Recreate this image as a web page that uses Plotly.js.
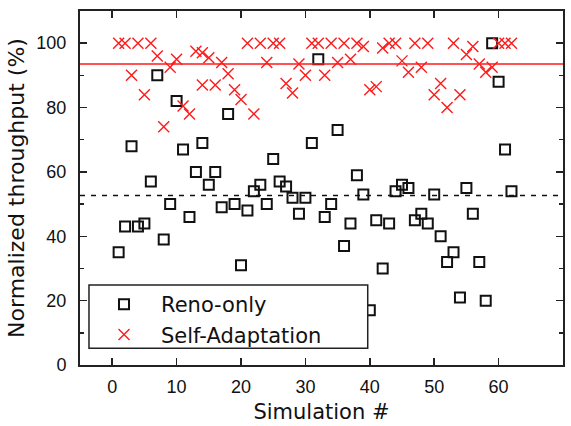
<!DOCTYPE html>
<html>
<head>
<meta charset="utf-8">
<script src="https://cdn.plot.ly/plotly-3.0.1.min.js"></script>
<style>
  html, body { margin: 0; padding: 0; background: #fff; }
  #chart { width: 571px; height: 426px; }
</style>
</head>
<body>
<div id="chart"></div>
<script>
// ---- Data ----
const renoX = [1,2,3,4,5,6,7,8,9,10,11,12,13,14,15,16,17,18,19,20,21,22,23,24,25,26,27,28,29,30,31,32,33,34,35,36,37,38,39,40,41,42,43,44,45,46,47,48,49,50,51,52,53,54,55,56,57,58,59,60,61,62];
const renoY = [35,43,68,43,44,57,90,39,50,82,67,46,60,69,56,60,49,78,50,31,48,54,56,50,64,57,55.5,52,47,52,69,95,46,50,73,37,44,59,53,17,45,30,44,54,56,55,45,47,44,53,40,32,35,21,55,47,32,20,100,88,67,54];

const selfX = [1,2,3,4,5,6,7,8,9,10,11,12,13,14,14,15,16,17,18,19,20,21,22,23,24,25,26,27,28,29,30,31,32,33,34,35,36,37,38,39,40,41,42,43,44,45,46,47,48,49,50,51,52,53,54,55,56,57,58,59,60,61,62];
const selfY = [100,100,90,100,84,100,96,74,92.5,95,80.5,78,97.5,97,87,95.5,87,94,90.5,85.5,82.5,100,78,100,94,100,100,87.5,84.5,93.5,90,100,100,90,100,94,100,95,100,99,85.5,86.5,98.5,100,100,94.5,91,100,92.5,100,84,87.5,80,100,84,96.5,99,93.5,91,92.5,100,100,100];

const renoMean = 52.7;   // dashed black reference line
const selfMean = 93.5;   // solid red reference line

const seriesNames = ["Reno-only", "Self-Adaptation"];
const xTicks = [0,10,20,30,40,50,60,70];
const yTicks = [0,20,40,60,80,100];

// ---- Traces ----
const traces = [
  {
    x: renoX, y: renoY, name: seriesNames[0], type: "scatter", mode: "markers",
    marker: { symbol: "square-open", size: 10, color: "#111", line: { color: "#111", width: 2 } }
  },
  {
    x: selfX, y: selfY, name: seriesNames[1], type: "scatter", mode: "markers",
    marker: { symbol: "x-thin-open", size: 11, color: "#ff1a1a", line: { color: "#ff1a1a", width: 1.4 } }
  }
];

const axisCommon = {
  showgrid: false, zeroline: false,
  showline: true, linecolor: "#222", linewidth: 2, mirror: "ticks",
  ticks: "inside", ticklen: 7, tickwidth: 1.5, tickcolor: "#222",
  tickfont: { family: "Arial, 'Liberation Sans', sans-serif", size: 18, color: "#111" }
};

const layout = {
  width: 571, height: 426,
  margin: { l: 80, r: 8, t: 11, b: 61 },
  paper_bgcolor: "#fff", plot_bgcolor: "#fff",
  showlegend: true,
  xaxis: Object.assign({}, axisCommon, {
    range: [-5, 70], tickmode: "array", tickvals: xTicks, ticktext: xTicks.map(String),
    ticklabelstandoff: 4,
    title: { text: "Simulation #", font: { family: "'DejaVu Sans', sans-serif", size: 21, color: "#111" }, standoff: 9 }
  }),
  yaxis: Object.assign({}, axisCommon, {
    range: [0, 110], tickmode: "array", tickvals: yTicks, ticktext: yTicks.map(String),
    ticklabelstandoff: 8,
    minor: { dtick: 10, ticks: "inside", ticklen: 4, tickwidth: 1.5, tickcolor: "#222" },
    title: { text: "Normalized throughput (%)", font: { family: "'DejaVu Sans', sans-serif", size: 22, color: "#111" }, standoff: 6 }
  }),
  legend: {
    x: 0.0145, y: 0.2286, xanchor: "left", yanchor: "top",
    bgcolor: "rgba(0,0,0,0)", borderwidth: 0,
    itemwidth: 64,
    font: { family: "'DejaVu Sans', sans-serif", size: 21, color: "#111" }
  },
  shapes: [
    { type: "line", xref: "paper", yref: "y", x0: 0, x1: 1, y0: selfMean, y1: selfMean,
      line: { color: "#ff1a1a", width: 1.5 }, layer: "above" },
    { type: "line", xref: "paper", yref: "y", x0: 0, x1: 1, y0: renoMean, y1: renoMean,
      line: { color: "#111", width: 1.5, dash: "5px,6px" }, layer: "above" },
    // legend frame
    { type: "rect", xref: "paper", yref: "paper", x0: 0.0186, x1: 0.5957, y0: 0.0471, y1: 0.2258,
      fillcolor: "#fff", line: { color: "#222", width: 1.5 }, layer: "above" }
  ]
};

Plotly.newPlot("chart", traces, layout, { displayModeBar: false, staticPlot: true });
</script>
</body>
</html>
